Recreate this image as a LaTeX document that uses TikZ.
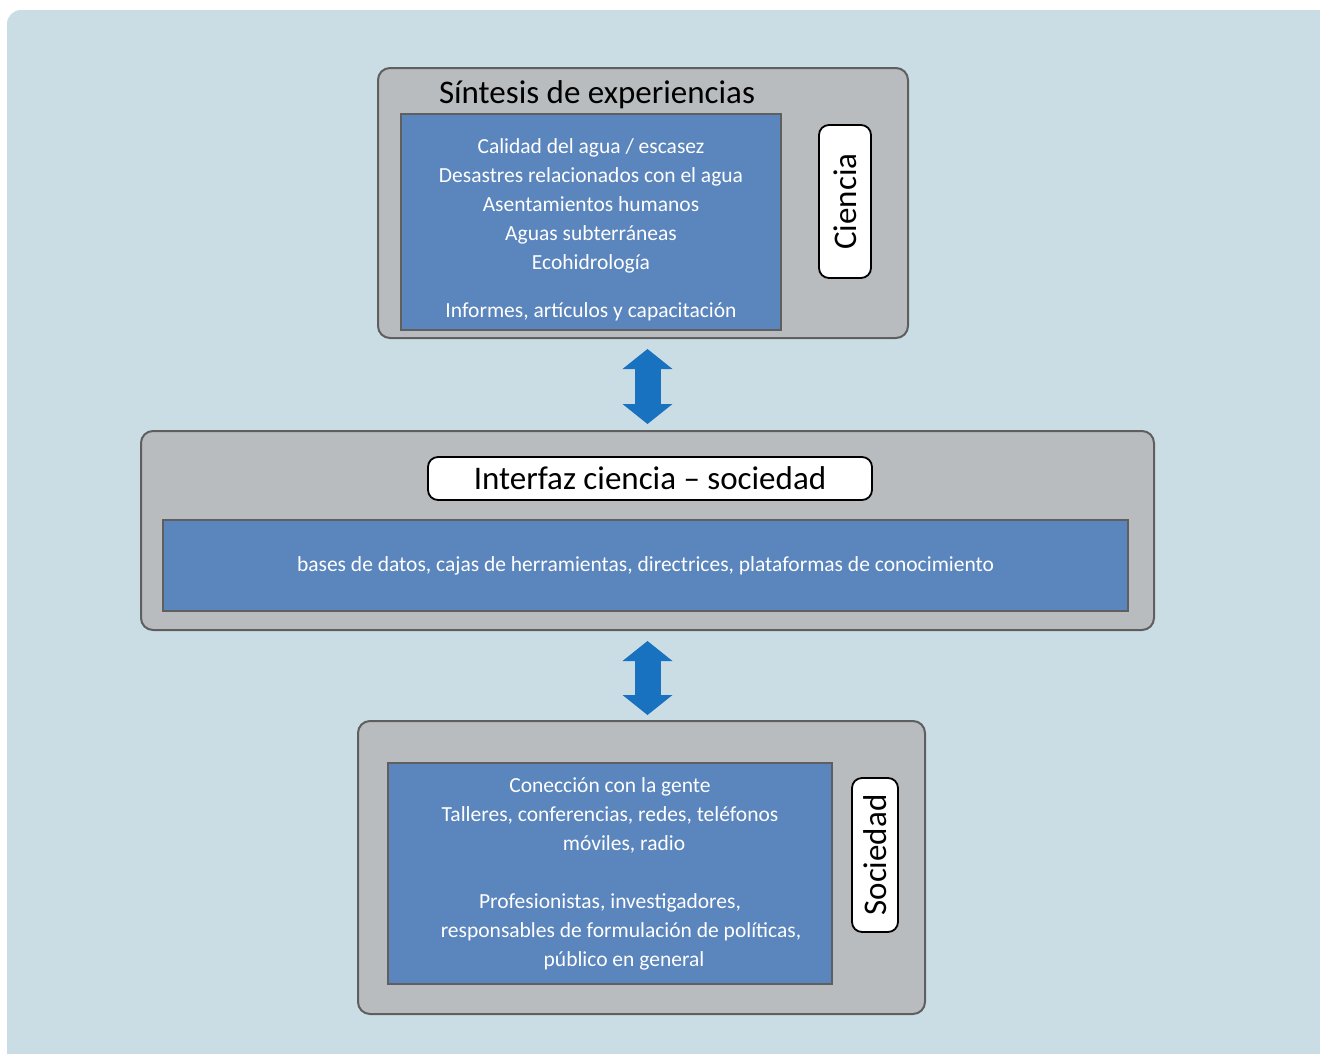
\documentclass[tikz,border=0pt]{standalone}
\usepackage{fontspec}
\setmainfont{Carlito}
\usepackage{tikz}
\usetikzlibrary{arrows.meta,positioning}
\usetikzlibrary{calc}

\definecolor{bgblue}{RGB}{202,221,229}
\definecolor{panelgray}{RGB}{184,188,191}
\definecolor{edgegray}{RGB}{95,95,95}
\definecolor{itemblue}{RGB}{90,133,189}
\definecolor{arrowblue}{RGB}{24,114,192}

\begin{document}
\begin{tikzpicture}[
  x=1pt, y=-1pt,
  panel/.style={rectangle, rounded corners=12pt, draw=edgegray, line width=2pt, fill=panelgray, inner sep=0pt},
  items/.style={rectangle, draw=edgegray, line width=1.5pt, fill=itemblue, text=white, align=center, inner sep=0pt, font=\fontsize{21.5}{29}\selectfont},
  tag/.style={rectangle, rounded corners=10pt, draw=black, line width=1.8pt, fill=white, inner sep=0pt, font=\fontsize{33}{36}\selectfont},
  heading/.style={inner sep=0pt, font=\fontsize{33}{36}\selectfont},
  dblarr/.style={line width=26pt, draw=arrowblue, {Triangle[length=20pt,width=50pt,line width=0pt]}-{Triangle[length=20pt,width=50pt,line width=0pt]}}
]

  \useasboundingbox (0,0) rectangle (1320,1053);
  \fill[bgblue, rounded corners=14pt] (7,10) rectangle (1345,1075);

  \node[panel, minimum width=530pt, minimum height=270pt] (sint) at (643,203) {};
  \node[heading] (sinttitle) at (597,95) {Síntesis de experiencias};
  \node[items, minimum width=380pt, minimum height=216pt] (sintitems) at (591,222)
    {\rule{0pt}{30pt}Calidad del agua / escasez\\
     Desastres relacionados con el agua\\
     Asentamientos humanos\\
     Aguas subterráneas\\
     Ecohidrología\\[19pt]
     Informes, artículos y capacitación};
  \node[tag, rotate=90, minimum width=153pt, minimum height=52pt] (ciencia) at (845,201.5) {Ciencia};

  \node[panel, minimum width=1013pt, minimum height=199pt] (interfaz) at (647.5,530.5) {};
  \node[tag, minimum width=444pt, minimum height=43pt] (interfaztitle) at (650,478.5) {Interfaz ciencia – sociedad};
  \node[items, minimum width=965pt, minimum height=91pt] (interfazitems) at (645.5,565.5)
    {bases de datos, cajas de herramientas, directrices, plataformas de conocimiento};

  \node[panel, minimum width=567pt, minimum height=293pt] (soc) at (641.5,867.5) {};
  \node[items, minimum width=444pt, minimum height=221pt] (socitems) at (610,873.5)
    {Conección con la gente\\
     Talleres, conferencias, redes, teléfonos\\
     \hspace*{28pt}móviles, radio\\[29pt]
     Profesionistas, investigadores,\\
     \hspace*{22pt}responsables de formulación de políticas,\\
     \hspace*{28pt}público en general};
  \node[tag, rotate=90, minimum width=154pt, minimum height=46pt] (sociedad) at (875,855) {Sociedad};

  \draw[dblarr, shorten <=10pt, shorten >=6pt] (sint.south -| interfaz.north) -- (interfaz.north);
  \draw[dblarr, shorten <=10pt, shorten >=5pt] (interfaz.south) -- (interfaz.south |- soc.north);
\end{tikzpicture}
\end{document}
